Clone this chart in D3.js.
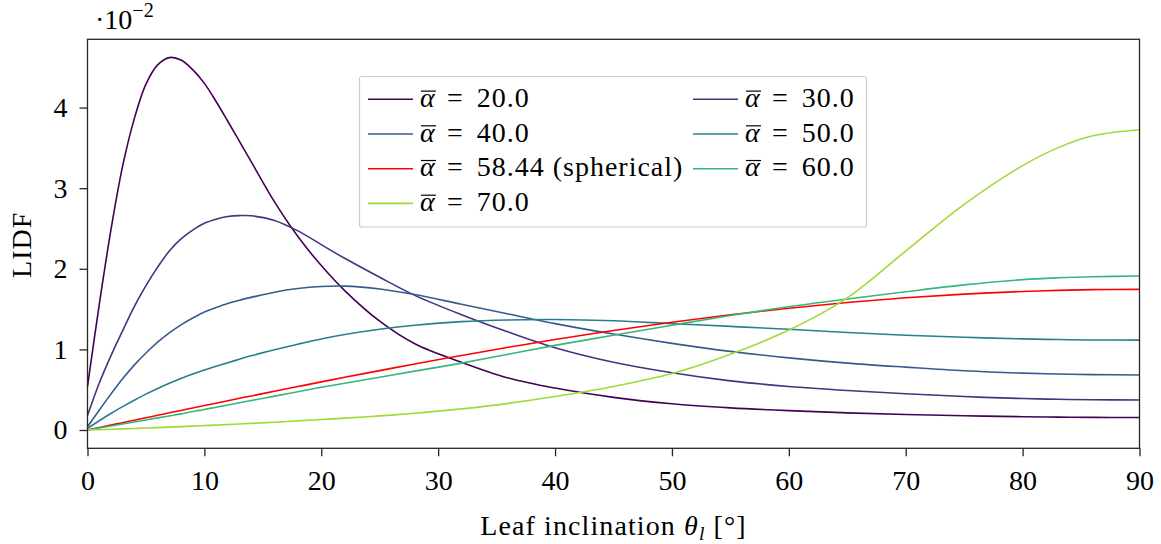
<!DOCTYPE html>
<html>
<head>
<meta charset="utf-8">
<script src="https://cdn.jsdelivr.net/npm/d3@7"></script>
<style>
    html, body { margin: 0; padding: 0; background: #fff; }
    #chart { width: 1161px; height: 544px; }
    text { font-family: "Liberation Serif", "DejaVu Serif", serif; fill: #000; }
</style>
</head>
<body>
<div id="chart"></div>
<script>
const inclination = [0, 1, 2, 3, 4, 5, 6, 7, 8, 9, 10, 11, 12, 13, 14, 16, 18, 20, 22, 25, 28, 32, 36, 40, 45, 50, 55, 60, 65, 70, 75, 80, 83, 86, 90];
const lidf20 = [0.54, 1.55, 2.48, 3.27, 3.86, 4.29, 4.53, 4.62, 4.59, 4.47, 4.30, 4.075, 3.83, 3.58, 3.33, 2.83, 2.40, 2.04, 1.73, 1.35, 1.07, 0.84, 0.645, 0.52, 0.405, 0.325, 0.275, 0.24, 0.213, 0.193, 0.177, 0.165, 0.16, 0.157, 0.155];
const lidf30 = [0.18, 0.58, 0.92, 1.23, 1.53, 1.79, 2.02, 2.22, 2.37, 2.48, 2.565, 2.615, 2.648, 2.66, 2.658, 2.60, 2.47, 2.30, 2.13, 1.895, 1.67, 1.43, 1.215, 1.02, 0.84, 0.71, 0.61, 0.54, 0.49, 0.45, 0.415, 0.39, 0.381, 0.375, 0.372];
const lidf40 = [0.04, 0.245, 0.445, 0.635, 0.805, 0.955, 1.09, 1.205, 1.305, 1.39, 1.465, 1.52, 1.57, 1.61, 1.645, 1.71, 1.755, 1.78, 1.785, 1.75, 1.68, 1.56, 1.44, 1.32, 1.19, 1.075, 0.975, 0.895, 0.83, 0.78, 0.735, 0.705, 0.694, 0.687, 0.683];
const lidf50 = [0.02, 0.115, 0.205, 0.29, 0.37, 0.445, 0.515, 0.58, 0.64, 0.695, 0.745, 0.79, 0.835, 0.878, 0.92, 0.995, 1.065, 1.13, 1.185, 1.25, 1.30, 1.345, 1.365, 1.37, 1.355, 1.32, 1.285, 1.25, 1.21, 1.175, 1.15, 1.13, 1.122, 1.117, 1.115];
const lidfSpherical = [0.0, 0.03, 0.061, 0.091, 0.122, 0.152, 0.182, 0.213, 0.243, 0.273, 0.303, 0.333, 0.363, 0.393, 0.422, 0.481, 0.539, 0.597, 0.654, 0.737, 0.819, 0.925, 1.026, 1.122, 1.234, 1.337, 1.429, 1.511, 1.581, 1.64, 1.686, 1.719, 1.732, 1.741, 1.745];
const lidf60 = [0.0, 0.025, 0.05, 0.075, 0.10, 0.125, 0.15, 0.175, 0.20, 0.23, 0.255, 0.283, 0.31, 0.338, 0.365, 0.42, 0.475, 0.53, 0.58, 0.655, 0.73, 0.83, 0.94, 1.05, 1.175, 1.30, 1.42, 1.53, 1.625, 1.715, 1.80, 1.865, 1.888, 1.902, 1.91];
const lidf70 = [0.0, 0.004, 0.009, 0.014, 0.019, 0.024, 0.03, 0.036, 0.042, 0.048, 0.055, 0.061, 0.068, 0.075, 0.082, 0.097, 0.113, 0.13, 0.147, 0.175, 0.208, 0.262, 0.33, 0.415, 0.54, 0.70, 0.94, 1.24, 1.64, 2.22, 2.80, 3.28, 3.50, 3.65, 3.725];
const seriesLabels = ['20.0', '30.0', '40.0', '50.0', '58.44 (spherical)', '60.0', '70.0'];
const seriesColors = ['#440154', '#46327e', '#365c8d', '#277f8e', '#ff0000', '#35b779', '#a0da39'];
const xTicks = [0, 10, 20, 30, 40, 50, 60, 70, 80, 90];
const yTicks = [0, 1, 2, 3, 4];

class LidfChartRenderer {
    container = null;
    svg = null;
    width = 1161;
    height = 544;
    margin = { top: 39.3, right: 21.5, bottom: 95.7, left: 87.5 };
    fontSize = 28;

    render(container) {
        this.container = container;
        this.setupSVG();
        this.setupScales();
        this.renderLines();
        this.renderFrame();
        this.renderAxes();
        this.renderLabels();
        this.renderLegend();
    }

    setupSVG() {
        this.container.innerHTML = '';
        this.svg = d3.select(this.container)
            .append('svg')
            .attr('width', this.width)
            .attr('height', this.height)
            .attr('viewBox', `0 0 ${this.width} ${this.height}`);
        this.svg.append('rect')
            .attr('width', this.width)
            .attr('height', this.height)
            .attr('fill', '#fff');
    }

    setupScales() {
        const m = this.margin;
        this.x = d3.scaleLinear()
            .domain([0, 90])
            .range([m.left, this.width - m.right]);
        this.y = d3.scaleLinear()
            .domain([-0.227, 4.847])
            .range([this.height - m.bottom, m.top]);
    }

    renderLines() {
        const series = [lidf20, lidf30, lidf40, lidf50, lidfSpherical, lidf60, lidf70];
        const line = d3.line()
            .x((d) => this.x(d[0]))
            .y((d) => this.y(d[1]))
            .curve(d3.curveCatmullRom.alpha(0.5));
        this.svg.append('g')
            .selectAll('path')
            .data(series)
            .enter().append('path')
            .attr('d', (values) => line(inclination.map((t, i) => [t, values[i]])))
            .attr('fill', 'none')
            .attr('stroke', (d, i) => seriesColors[i])
            .attr('stroke-width', 1.6)
            .attr('stroke-linejoin', 'round');
    }

    renderFrame() {
        const [x0, x1] = this.x.range();
        const [y0, y1] = this.y.range();
        this.svg.append('rect')
            .attr('x', x0)
            .attr('y', y1)
            .attr('width', x1 - x0)
            .attr('height', y0 - y1)
            .attr('fill', 'none')
            .attr('stroke', '#262626')
            .attr('stroke-width', 1.3);
    }

    renderAxes() {
        const xAxis = d3.axisBottom(this.x)
            .tickValues(xTicks)
            .tickFormat(d3.format('d'))
            .tickSize(8)
            .tickSizeOuter(0)
            .tickPadding(14);
        const yAxis = d3.axisLeft(this.y)
            .tickValues(yTicks)
            .tickFormat(d3.format('d'))
            .tickSize(8)
            .tickSizeOuter(0)
            .tickPadding(12);
        const gx = this.svg.append('g')
            .attr('transform', `translate(0,${this.y.range()[0]})`)
            .call(xAxis);
        const gy = this.svg.append('g')
            .attr('transform', `translate(${this.x.range()[0]},0)`)
            .call(yAxis);
        [gx, gy].forEach((g) => {
            g.select('.domain').remove();
            g.selectAll('.tick line').attr('stroke', '#262626').attr('stroke-width', 1.3);
            g.selectAll('.tick text')
                .attr('font-family', '"Liberation Serif", serif')
                .attr('font-size', this.fontSize)
                .attr('fill', '#000');
        });
    }

    renderLabels() {
        const fs = this.fontSize;
        const xLabel = this.svg.append('text')
            .attr('x', d3.mean(this.x.range()))
            .attr('y', 535)
            .attr('text-anchor', 'middle')
            .attr('font-size', fs)
            .attr('letter-spacing', 1.1);
        xLabel.append('tspan').text('Leaf inclination ');
        xLabel.append('tspan').attr('font-style', 'italic').text('θ');
        xLabel.append('tspan').attr('font-style', 'italic').attr('font-size', fs * 0.7).attr('dy', 5).text('l');
        xLabel.append('tspan').attr('dy', -5).text(' [°]');

        this.svg.append('text')
            .attr('transform', `translate(31,${d3.mean(this.y.range()) + 1})rotate(-90)`)
            .attr('text-anchor', 'middle')
            .attr('font-size', fs)
            .attr('letter-spacing', 1)
            .text('LIDF');

        const scale = this.svg.append('text')
            .attr('x', 95)
            .attr('y', 29)
            .attr('font-size', fs);
        scale.append('tspan').text('·10');
        scale.append('tspan').attr('font-size', fs * 0.72).attr('dy', -12).text('−2');
    }

    renderLegend() {
        const fs = this.fontSize;
        const box = { x: 359.5, y: 76.5, width: 507, height: 150.5 };
        const columns = [368, 693];
        const rowStep = 34.7;
        const firstRow = 99.3;
        const legend = this.svg.append('g');
        legend.append('rect')
            .attr('x', box.x)
            .attr('y', box.y)
            .attr('width', box.width)
            .attr('height', box.height)
            .attr('rx', 2)
            .attr('fill', '#fff')
            .attr('stroke', '#cccccc')
            .attr('stroke-width', 1.2);
        seriesLabels.forEach((label, i) => {
            const cx = columns[i % 2];
            const cy = firstRow + Math.floor(i / 2) * rowStep;
            const baseline = cy + 7.5;
            legend.append('line')
                .attr('x1', cx)
                .attr('x2', cx + 45)
                .attr('y1', cy)
                .attr('y2', cy)
                .attr('stroke', seriesColors[i])
                .attr('stroke-width', 1.6);
            const alpha = legend.append('text')
                .attr('x', cx + 52)
                .attr('y', baseline)
                .attr('font-size', fs)
                .attr('font-style', 'italic')
                .text('α');
            const bb = alpha.node().getBBox();
            legend.append('line')
                .attr('x1', bb.x + 1)
                .attr('x2', bb.x + bb.width)
                .attr('y1', baseline - fs * 0.56)
                .attr('y2', baseline - fs * 0.56)
                .attr('stroke', '#000')
                .attr('stroke-width', 1.2);
            legend.append('text')
                .attr('x', cx + 87)
                .attr('y', baseline)
                .attr('text-anchor', 'middle')
                .attr('font-size', fs)
                .text('=');
            legend.append('text')
                .attr('x', cx + 108.7)
                .attr('y', baseline)
                .attr('font-size', fs)
                .attr('letter-spacing', 1)
                .text(label);
        });
    }
}

new LidfChartRenderer().render(document.getElementById('chart'));
</script>
</body>
</html>
